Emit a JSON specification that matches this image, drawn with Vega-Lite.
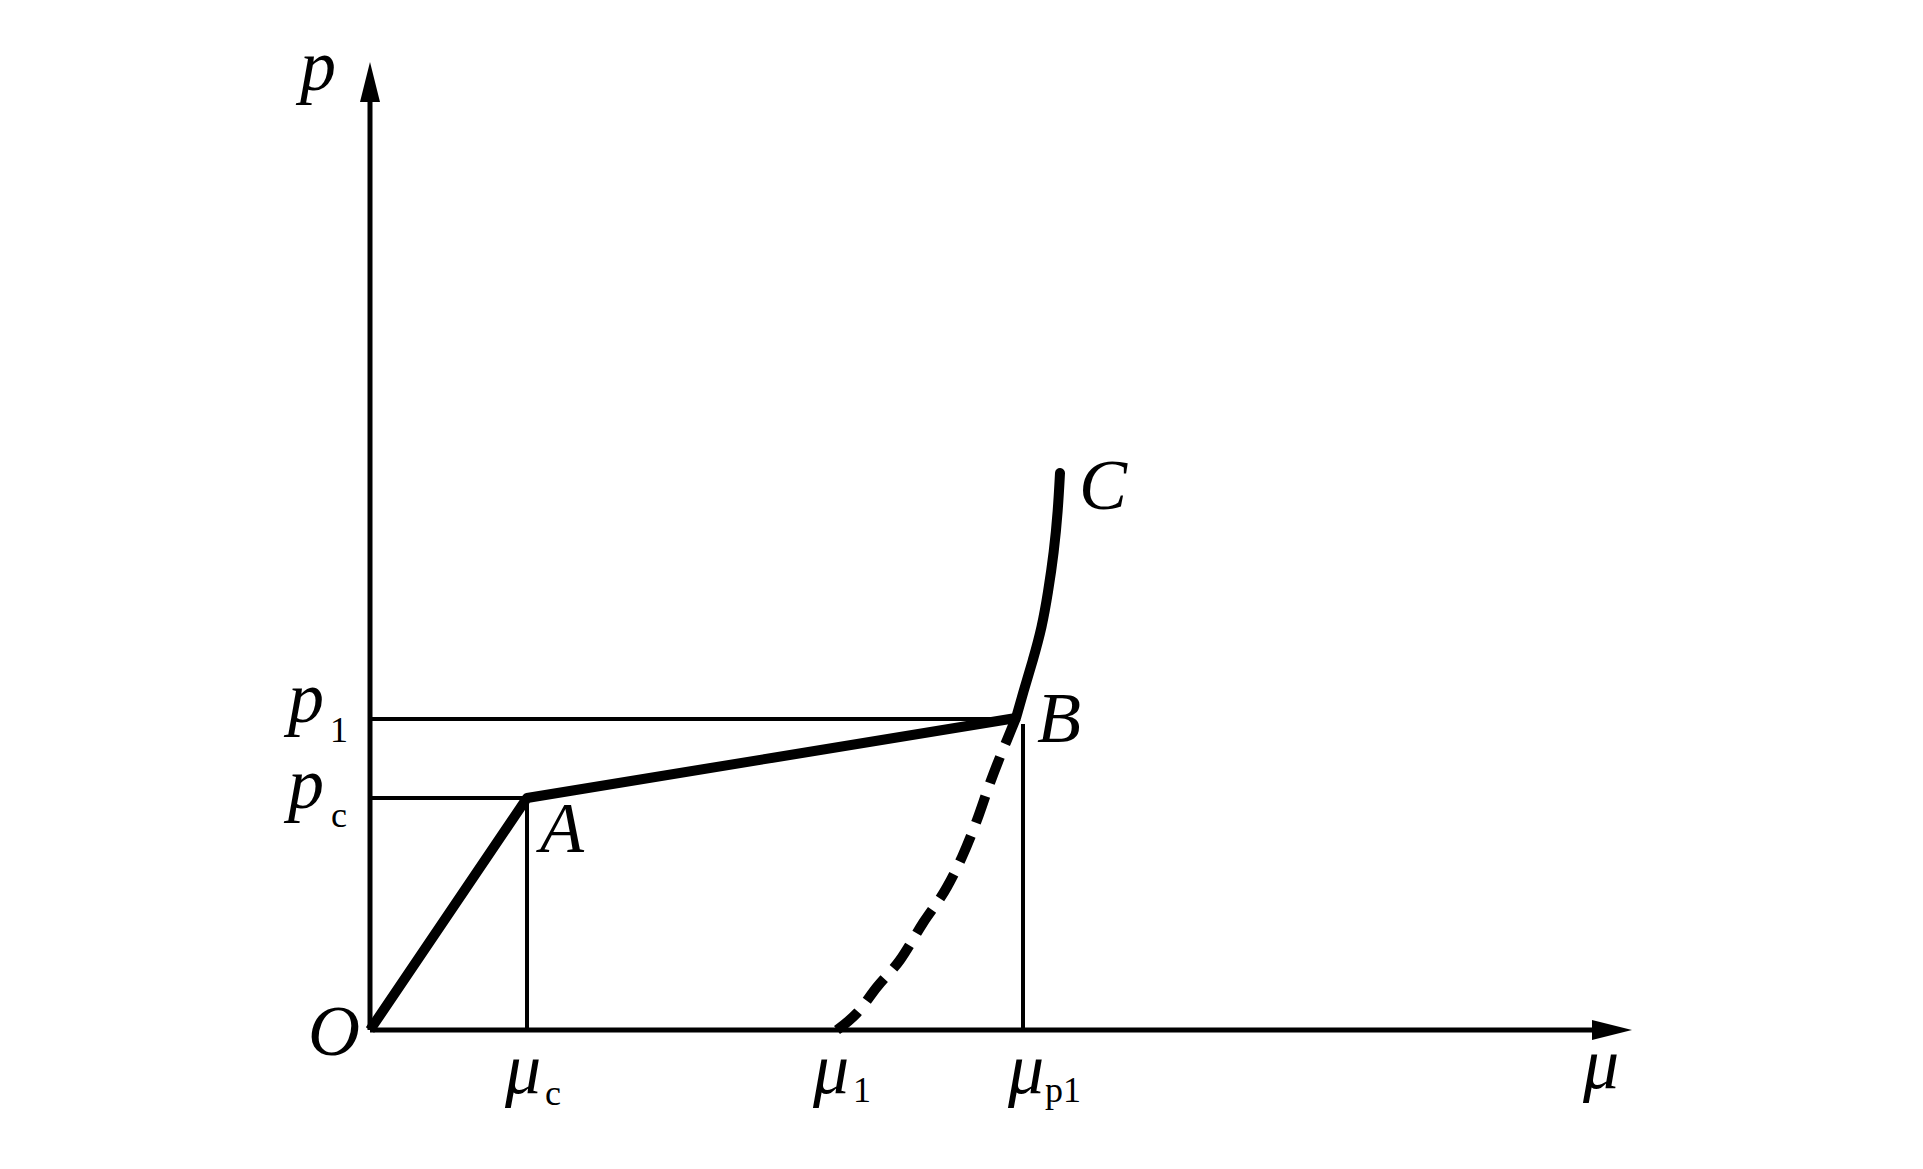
{
  "$schema": "https://vega.github.io/schema/vega-lite/v6.json",
  "width": 1262,
  "height": 968,
  "autosize": {"type": "none"},
  "padding": {"left": 370, "top": 62, "right": 291, "bottom": 139},
  "background": "white",
  "config": {"view": {"stroke": null}},
  "datasets": {
    "segments": [
      {"kind": "axis", "x": 0, "y": 0, "x2": 1230, "y2": 0},
      {"kind": "axis", "x": 0, "y": 0, "x2": 0, "y2": 935},
      {"kind": "guide", "x": 0, "y": 232, "x2": 157, "y2": 232},
      {"kind": "guide", "x": 157, "y": 0, "x2": 157, "y2": 232},
      {"kind": "guide", "x": 0, "y": 311, "x2": 648, "y2": 311},
      {"kind": "guide", "x": 653, "y": 0, "x2": 653, "y2": 306}
    ],
    "oab": [
      {"x": 0, "y": 0},
      {"x": 157, "y": 232},
      {"x": 646, "y": 312}
    ],
    "bc": [
      {"x": 646, "y": 312},
      {"x": 653, "y": 337},
      {"x": 663, "y": 370},
      {"x": 672, "y": 403},
      {"x": 678, "y": 437},
      {"x": 684, "y": 478},
      {"x": 688, "y": 520},
      {"x": 690, "y": 557}
    ],
    "dashed": [
      {"x": 467, "y": 0},
      {"x": 487, "y": 17},
      {"x": 507, "y": 43},
      {"x": 530, "y": 70},
      {"x": 553, "y": 107},
      {"x": 577, "y": 143},
      {"x": 592, "y": 173},
      {"x": 607, "y": 210},
      {"x": 620, "y": 247},
      {"x": 630, "y": 273},
      {"x": 637, "y": 290},
      {"x": 646, "y": 312}
    ],
    "arrows": [
      {"dir": "right", "x": 1242, "y": 0},
      {"dir": "up", "x": 0, "y": 948}
    ],
    "labels": [
      {"kind": "main", "text": "p", "x": -70, "y": 940},
      {"kind": "main", "text": "p", "x": -82, "y": 308},
      {"kind": "sub", "text": "1", "x": -40, "y": 288},
      {"kind": "main", "text": "p", "x": -82, "y": 222},
      {"kind": "sub", "text": "c", "x": -39, "y": 203},
      {"kind": "main", "text": "O", "x": -62, "y": -25},
      {"kind": "main", "text": "A", "x": 170, "y": 178},
      {"kind": "main", "text": "B", "x": 667, "y": 288},
      {"kind": "main", "text": "C", "x": 709, "y": 521},
      {"kind": "main", "text": "μ", "x": 135, "y": -63},
      {"kind": "sub", "text": "c", "x": 175, "y": -75},
      {"kind": "main", "text": "μ", "x": 443, "y": -63},
      {"kind": "sub", "text": "1", "x": 483, "y": -72},
      {"kind": "main", "text": "μ", "x": 638, "y": -63},
      {"kind": "sub", "text": "p1", "x": 675, "y": -72},
      {"kind": "main", "text": "μ", "x": 1213, "y": -58}
    ]
  },
  "encoding": {
    "x": {"field": "x", "type": "quantitative", "scale": {"domain": [0, 1262], "nice": false, "zero": false}, "axis": null},
    "y": {"field": "y", "type": "quantitative", "scale": {"domain": [0, 968], "nice": false, "zero": false}, "axis": null}
  },
  "layer": [
    {
      "data": {"name": "segments"},
      "transform": [{"filter": "datum.kind === 'axis'"}],
      "mark": {"type": "rule", "color": "black", "strokeWidth": 5, "clip": false},
      "encoding": {"x2": {"field": "x2"}, "y2": {"field": "y2"}}
    },
    {
      "data": {"name": "segments"},
      "transform": [{"filter": "datum.kind === 'guide'"}],
      "mark": {"type": "rule", "color": "black", "strokeWidth": 4, "clip": false},
      "encoding": {"x2": {"field": "x2"}, "y2": {"field": "y2"}}
    },
    {
      "data": {"name": "dashed"},
      "mark": {"type": "line", "color": "black", "strokeWidth": 10, "strokeDash": [28, 14], "interpolate": "monotone", "clip": false},
      "encoding": {"order": {"field": "y", "type": "quantitative"}}
    },
    {
      "data": {"name": "oab"},
      "mark": {"type": "line", "color": "black", "strokeWidth": 10, "strokeJoin": "round", "clip": false},
      "encoding": {"order": {"field": "x", "type": "quantitative"}}
    },
    {
      "data": {"name": "bc"},
      "mark": {"type": "line", "color": "black", "strokeWidth": 10, "strokeCap": "round", "interpolate": "basis", "clip": false},
      "encoding": {"order": {"field": "y", "type": "quantitative"}}
    },
    {
      "data": {"name": "arrows"},
      "transform": [{"filter": "datum.dir === 'right'"}],
      "mark": {"type": "point", "shape": "M-1,-0.5L1,0L-1,0.5Z", "size": 1600, "filled": true, "color": "black", "opacity": 1, "strokeWidth": 0, "clip": false}
    },
    {
      "data": {"name": "arrows"},
      "transform": [{"filter": "datum.dir === 'up'"}],
      "mark": {"type": "point", "shape": "M-0.5,1L0,-1L0.5,1Z", "size": 1600, "filled": true, "color": "black", "opacity": 1, "strokeWidth": 0, "clip": false}
    },
    {
      "data": {"name": "labels"},
      "transform": [{"filter": "datum.kind === 'main'"}],
      "mark": {"type": "text", "font": "Liberation Serif", "fontStyle": "italic", "fontSize": 72, "align": "left", "baseline": "alphabetic", "color": "black", "clip": false},
      "encoding": {"text": {"field": "text"}}
    },
    {
      "data": {"name": "labels"},
      "transform": [{"filter": "datum.kind === 'sub'"}],
      "mark": {"type": "text", "font": "Liberation Serif", "fontSize": 36, "align": "left", "baseline": "alphabetic", "color": "black", "clip": false},
      "encoding": {"text": {"field": "text"}}
    }
  ]
}
